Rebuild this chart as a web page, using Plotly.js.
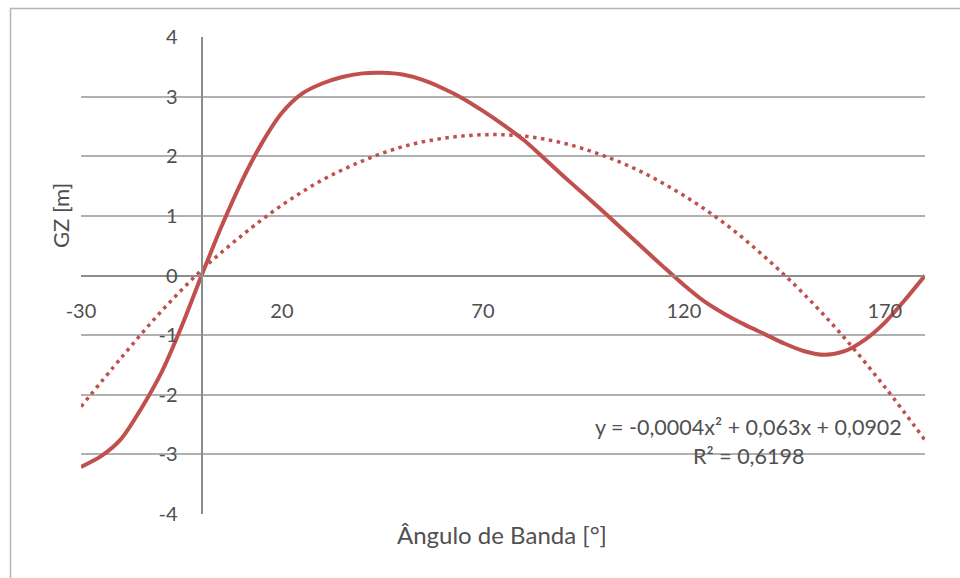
<!DOCTYPE html>
<html>
<head>
<meta charset="utf-8">
<script src="https://cdn.plot.ly/plotly-3.0.1.min.js"></script>
<style>html,body{margin:0;padding:0;background:#fff;}#chart{width:960px;height:578px;}</style>
</head>
<body>
<div id="chart"></div>
<script>
// Solid GZ curve
const angles = [-30,-25,-20,-15,-10,-5,0,5,10,15,20,25,30,35,40,45,50,55,60,65,70,75,80,85,90,95,100,105,110,115,120,125,130,135,140,145,150,155,160,165,170,175,180];
const gz = [-3.21,-3.03,-2.74,-2.23,-1.63,-0.86,0.0,0.83,1.58,2.22,2.73,3.05,3.22,3.33,3.39,3.40,3.37,3.28,3.14,2.97,2.76,2.53,2.28,1.98,1.67,1.37,1.07,0.76,0.45,0.14,-0.16,-0.43,-0.64,-0.82,-0.98,-1.14,-1.27,-1.33,-1.27,-1.08,-0.79,-0.41,0.0];
// Dotted polynomial trendline
const trendAngles = [-30,-20,-10,0,10,20,30,40,50,60,70,80,90,100,110,120,130,140,150,160,170,180];
const trendGz = [-2.20,-1.38,-0.60,0.09,0.67,1.18,1.60,1.92,2.16,2.30,2.36,2.34,2.22,2.01,1.72,1.34,0.88,0.32,-0.32,-1.05,-1.87,-2.76];
const xTickVals = [-30,20,70,120,170];
const yTickVals = [-4,-3,-2,-1,0,1,2,3,4];
const eqLine1 = "y = -0,0004x² + 0,063x + 0,0902";
const eqLine2 = "R² = 0,6198";
const xTitle = "Ângulo de Banda [°]";
const yTitle = "GZ [m]";

const red = '#C0504D';
const txt = '#505050';
const fam = 'Lato, "Open Sans", sans-serif';

const traces = [
  {x: angles, y: gz, type: 'scatter', mode: 'lines', line: {color: red, width: 4, shape: 'spline', smoothing: 0.8}, hoverinfo: 'x+y', showlegend: false},
  {x: trendAngles, y: trendGz, type: 'scatter', mode: 'lines', line: {color: red, width: 3.5, dash: '3.5px,4.5px', shape: 'spline'}, hoverinfo: 'x+y', showlegend: false}
];

const layout = {
  width: 960, height: 578,
  margin: {l: 81, r: 35, t: 37, b: 64, pad: 0},
  paper_bgcolor: '#ffffff', plot_bgcolor: '#ffffff',
  font: {family: fam, size: 20, color: txt},
  showlegend: false,
  xaxis: {
    range: [-30, 180], tickvals: xTickVals, ticktext: xTickVals.map(String),
    anchor: 'free', position: 0.5,
    showgrid: false, zeroline: false,
    showline: true, linecolor: '#8c8c8c', linewidth: 2,
    ticks: '', ticklabelstandoff: 17,
    tickfont: {family: fam, size: 20, color: txt}
  },
  yaxis: {
    range: [-4, 4], tickvals: yTickVals, ticktext: yTickVals.map(String),
    anchor: 'free', position: 30/210,
    showgrid: true, gridcolor: '#b0b0b0', gridwidth: 2,
    zeroline: false,
    showline: true, linecolor: '#8c8c8c', linewidth: 2,
    ticks: '', ticklabelstandoff: 19,
    tickfont: {family: fam, size: 20, color: txt}
  },
  annotations: [
    {xref: 'x', yref: 'y', x: 136, y: -2.54, text: eqLine1, showarrow: false, xanchor: 'center', yanchor: 'middle', font: {family: fam, size: 21.5, color: txt}},
    {xref: 'x', yref: 'y', x: 136, y: -3.03, text: eqLine2, showarrow: false, xanchor: 'center', yanchor: 'middle', font: {family: fam, size: 21.5, color: txt}},
    {xref: 'paper', yref: 'paper', x: (501.5-81)/844, y: (514-534)/477, text: xTitle, showarrow: false, xanchor: 'center', yanchor: 'middle', font: {family: fam, size: 24, color: txt}},
    {xref: 'paper', yref: 'paper', x: (60-81)/844, y: (514-216)/477, text: yTitle, textangle: -90, showarrow: false, xanchor: 'center', yanchor: 'middle', font: {family: fam, size: 22, color: txt}}
  ],
  shapes: [
    {type: 'rect', xref: 'paper', yref: 'paper', x0: (10.5-81)/844, x1: (975-81)/844, y0: (514-595)/477, y1: (514-8.5)/477, line: {color: '#b5b5b5', width: 1.5}, fillcolor: 'rgba(0,0,0,0)', layer: 'below'}
  ]
};

Plotly.newPlot('chart', traces, layout, {staticPlot: true, displayModeBar: false});
</script>
</body>
</html>
